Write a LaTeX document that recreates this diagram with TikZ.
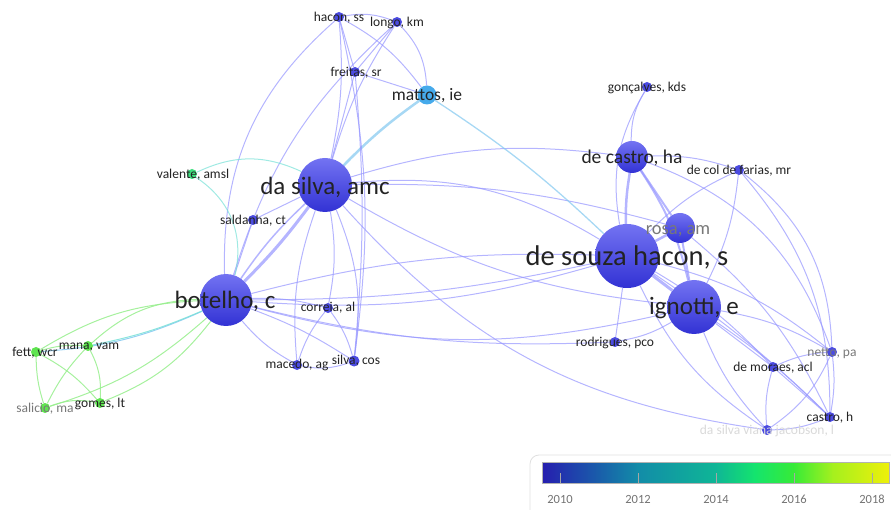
\documentclass[tikz,border=0pt]{standalone}
\usepackage{fontspec}
\setmainfont{Carlito}
\definecolor{nodetop}{RGB}{115,115,242}
\definecolor{nodebot}{RGB}{50,50,212}
\definecolor{smallc}{RGB}{75,75,225}
\definecolor{edgec}{RGB}{150,150,255}
\definecolor{greenc}{RGB}{150,238,140}
\definecolor{greenn}{RGB}{95,228,80}
\definecolor{mattosc}{RGB}{70,170,235}
\definecolor{valc}{RGB}{60,222,125}
\definecolor{cyanedge}{RGB}{120,225,215}
\definecolor{mixedge}{RGB}{130,200,240}
\definecolor{txt}{RGB}{35,35,35}
\definecolor{lgray}{RGB}{120,120,120}
\definecolor{cb0}{RGB}{38,30,175}
\definecolor{cb1}{RGB}{25,95,170}
\definecolor{cb2}{RGB}{18,140,168}
\definecolor{cb3}{RGB}{15,182,150}
\definecolor{cb4}{RGB}{20,228,110}
\definecolor{cb5}{RGB}{55,235,55}
\definecolor{cb6}{RGB}{165,240,30}
\definecolor{cb7}{RGB}{238,240,10}
\pgfdeclarelayer{bg}
\pgfsetlayers{bg,main}
\begin{document}
\begin{tikzpicture}[x=1pt,y=-1pt,
  big/.style={circle,inner sep=0,draw=none,top color=nodetop,bottom color=nodebot,minimum size=#1},
  sm/.style={circle,inner sep=0,draw=none,fill=smallc,minimum size=#1},
  gn/.style={circle,inner sep=0,draw=none,fill=greenn,minimum size=10pt},
  edge/.style={draw=edgec,opacity=0.7,line width=1pt},
  gedge/.style={draw=greenc,opacity=0.85,line width=1pt},
  lbl/.style={inner sep=0,text=txt},
  lblg/.style={inner sep=0,text=lgray},
  s10/.style={font=\fontsize{13.5}{14}\selectfont},
  tick/.style={draw=gray!70,line width=1pt}]
\useasboundingbox (0,0) rectangle (891,510);

% ---------- node positions ----------
\node[sm=10pt] (hss) at (339,17) {};
\node[sm=10pt] (lkm) at (397,22) {};
\node[sm=10pt] (fsr) at (355,72) {};
\node[circle,inner sep=0,fill=mattosc,minimum size=19pt] (mie) at (427,95) {};
\node[sm=10pt] (gon) at (647,87) {};
\node[big=32pt] (dch) at (632,157) {};
\node[sm=10pt] (dcf) at (739,170) {};
\node[big=54pt] (dsa) at (325,185) {};
\node[circle,inner sep=0,fill=valc,minimum size=10pt] (val) at (192,174) {};
\node[sm=10pt] (sal) at (253,220) {};
\node[big=30pt] (rosa) at (680,228) {};
\node[big=64pt] (dsh) at (627,256) {};
\node[big=54pt] (ign) at (694,307) {};
\node[big=52pt] (bot) at (226,300) {};
\node[sm=10pt] (cor) at (328,308) {};
\node[sm=10pt] (rod) at (615,342) {};
\node[sm=10pt] (mac) at (297,365) {};
\node[sm=11pt] (sco) at (354,361) {};
\node[gn] (fett) at (36,352) {};
\node[gn] (mana) at (88,346) {};
\node[gn] (sali) at (45,408) {};
\node[gn] (gom) at (100,403) {};
\node[sm=10pt] (net) at (832,352) {};
\node[sm=10pt] (dma) at (773,367) {};
\node[sm=10pt] (cah) at (830,417) {};
\node[sm=10pt] (jac) at (767,430) {};

% ---------- edges (behind nodes) ----------
\begin{pgfonlayer}{bg}
% left-top cluster
\draw[edge] (dsa) to[bend right=8] (hss);
\draw[edge] (dsa) to[bend left=8] (lkm);
\draw[edge] (dsa) to (fsr);
\draw[edge,draw=mixedge,line width=2.5pt] (dsa) to[bend left=5] (mie);
\draw[edge,line width=3pt] (dsa) to[bend left=4] (bot);
\draw[edge,line width=1.5pt] (dsa) to[bend right=6] (bot);
\draw[edge] (dsa) to (sal);
\draw[edge] (dsa) to[bend left=10] (cor);
\draw[edge] (dsa) to[bend right=12] (mac);
\draw[edge] (dsa) to[bend left=15] (sco);
\draw[edge] (dsa) to[bend left=18] (dsh);
\draw[edge] (dsa) to[bend left=12] (dch);
\draw[edge] (dsa) to[bend left=8] (rosa);
\draw[edge] (dsa) to[bend right=12] (ign);
\draw[edge] (hss) to (fsr);
\draw[edge] (hss) to[bend left=15] (lkm);
\draw[edge] (hss) to[bend left=12] (mie);
\draw[edge] (lkm) to (fsr);
\draw[edge] (lkm) to[bend left=20] (mie);
\draw[edge] (fsr) to (mie);
\draw[edge] (hss) to[bend right=25] (bot);
\draw[edge] (lkm) to[bend right=15] (bot);
\draw[edge] (fsr) to[bend left=5] (sco);
\draw[edge] (hss) to[bend left=10] (sco);
\draw[edge,draw=mixedge,line width=1.3pt] (mie) to[bend left=5] (dsh);
\draw[edge] (bot) to[bend right=10] (dsh);
\draw[edge] (bot) to[bend right=6] (dsh);
\draw[edge] (bot) to[bend left=8] (dsh);
\draw[edge] (bot) to[bend right=14] (ign);
\draw[edge] (bot) to[bend right=8] (rod);
\draw[edge] (bot) to[bend left=8] (cor);
\draw[edge] (bot) to[bend right=10] (mac);
\draw[edge] (bot) to[bend left=6] (sco);
\draw[edge] (sal) to (bot);
\draw[edge,draw=cyanedge] (val) to[bend left=25] (dsa);
\draw[edge,draw=cyanedge] (val) to[bend left=35] (bot);
\draw[edge] (cor) to[bend right=10] (mac);
\draw[edge] (cor) to[bend left=10] (sco);
\draw[edge] (mac) to[bend right=15] (sco);
\draw[edge] (dsa) to[bend right=20] (jac);
% green cluster
\draw[gedge,draw=mixedge] (bot) to[bend left=10] (fett);
\draw[gedge,draw=cyanedge] (bot) to[bend left=6] (mana);
\draw[gedge] (bot) to[bend left=15] (gom);
\draw[gedge] (bot) to[bend left=12] (sali);
\draw[gedge] (bot) to[bend right=20] (mana);
\draw[gedge] (bot) to[bend right=14] (fett);
\draw[gedge] (fett) to[bend left=10] (mana);
\draw[gedge] (fett) to[bend right=8] (sali);
\draw[gedge] (fett) to[bend left=10] (gom);
\draw[gedge] (mana) to[bend right=8] (sali);
\draw[gedge] (mana) to[bend left=15] (gom);
\draw[gedge] (sali) to[bend left=15] (gom);
% right cluster
\draw[edge,line width=3pt] (dsh) to (ign);
\draw[edge,line width=2.5pt] (dsh) to (rosa);
\draw[edge,line width=2.5pt] (dsh) to[bend left=5] (dch);
\draw[edge,line width=2pt] (rosa) to (ign);
\draw[edge,line width=2pt] (rosa) to (dch);
\draw[edge,line width=2pt] (dch) to[bend left=10] (ign);
\draw[edge] (dch) to[bend left=15] (gon);
\draw[edge] (dsh) to[bend left=20] (gon);
\draw[edge] (dch) to[bend left=10] (dcf);
\draw[edge] (dsh) to[bend left=10] (dcf);
\draw[edge] (ign) to[bend right=10] (dcf);
\draw[edge] (dcf) to[bend left=25] (net);
\draw[edge] (dcf) to[bend left=20] (cah);
\draw[edge] (dsh) to (rod);
\draw[edge] (ign) to[bend left=10] (rod);
\draw[edge] (dsh) to[bend left=8] (dma);
\draw[edge] (ign) to (dma);
\draw[edge] (ign) to[bend left=10] (net);
\draw[edge] (dsh) to[bend left=12] (net);
\draw[edge] (ign) to[bend left=5] (cah);
\draw[edge] (dsh) to[bend left=5] (cah);
\draw[edge] (ign) to[bend right=10] (jac);
\draw[edge] (dsh) to[bend right=15] (jac);
\draw[edge] (dma) to[bend left=10] (net);
\draw[edge] (dma) to (cah);
\draw[edge] (dma) to[bend right=10] (jac);
\draw[edge] (net) to[bend left=8] (cah);
\draw[edge] (net) to[bend left=15] (jac);
\draw[edge] (cah) to[bend left=10] (jac);
\draw[edge] (rosa) to[bend left=12] (cah);
\draw[edge] (dch) to[bend left=25] (net);
\end{pgfonlayer}

% ---------- labels ----------
\node[lbl,font=\fontsize{28.5}{29}\selectfont] (dsh-l) at (627,257) {de souza hacon, s};
\node[lbl,font=\fontsize{25}{25}\selectfont] (dsa-l) at (325,187) {da silva, amc};
\node[lbl,font=\fontsize{25}{25}\selectfont] (bot-l) at (225,301) {botelho, c};
\node[lbl,font=\fontsize{25}{25}\selectfont] (ign-l) at (694,308) {ignotti, e};
\node[lbl,font=\fontsize{19.5}{20}\selectfont] (dch-l) at (632,158) {de castro, ha};
\node[lblg,font=\fontsize{18.5}{19}\selectfont] (rosa-l) at (678,231) {rosa, am};
\node[lbl,font=\fontsize{17.5}{18}\selectfont] (mie-l) at (427,96) {mattos, ie};
\node[lbl,s10] (hss-l) at (339,18) {hacon, ss};
\node[lbl,s10] (lkm-l) at (397,23) {longo, km};
\node[lbl,s10] (fsr-l) at (356,73) {freitas, sr};
\node[lbl,s10] (gon-l) at (647,88) {gonçalves, kds};
\node[lbl,s10] (dcf-l) at (739,171) {de col de farias, mr};
\node[lbl,s10] (val-l) at (193,175) {valente, amsl};
\node[lbl,s10] (sal-l) at (253,221) {saldanha, ct};
\node[lbl,s10] (cor-l) at (328,308) {correia, al};
\node[lbl,s10] (rod-l) at (615,343) {rodrigues, pco};
\node[lbl,s10] (mac-l) at (297,365) {macedo, ag};
\node[lbl,s10] (sco-l) at (356,361) {silva, cos};
\node[lbl,s10] (fett-l) at (35,353) {fett, wcr};
\node[lbl,s10] (mana-l) at (89,347) {mana, vam};
\node[lblg,s10] (sali-l) at (45,409) {salicio, ma};
\node[lbl,s10] (gom-l) at (100,404) {gomes, lt};
\node[lblg,s10] (net-l) at (832,353) {netto, pa};
\node[lbl,s10] (dma-l) at (773,368) {de moraes, acl};
\node[lbl,s10] (cah-l) at (830,418) {castro, h};
\node[lbl,s10,text=black!15] (jac-l) at (767,431) {da silva viana jacobson, l};

% ---------- colour bar ----------
\draw[draw=gray!25,line width=0.8pt,rounded corners=9pt] (530,522) -- (530,455) -- (900,455);
\shade[left color=cb0,right color=cb1] (542,462) rectangle (600,483);
\shade[left color=cb1,right color=cb2] (599.6,462) rectangle (638,483);
\shade[left color=cb2,right color=cb3] (637.6,462) rectangle (716,483);
\shade[left color=cb3,right color=cb4] (715.6,462) rectangle (755,483);
\shade[left color=cb4,right color=cb5] (754.6,462) rectangle (794,483);
\shade[left color=cb5,right color=cb6] (793.6,462) rectangle (833,483);
\shade[left color=cb6,right color=cb7] (832.6,462) rectangle (889,483);
\draw[draw=gray!60,line width=0.8pt] (542,462) rectangle (889,483);
\foreach \xx/\yy in {560/2010,638/2012,716/2014,794/2016,872/2018}{
  \draw[tick] (\xx,473) -- (\xx,483);
  \node[inner sep=0,text=gray!90!black,font=\fontsize{12.5}{13}\selectfont] (t\yy) at (\xx,499) {\yy};
}
\end{tikzpicture}
\end{document}
